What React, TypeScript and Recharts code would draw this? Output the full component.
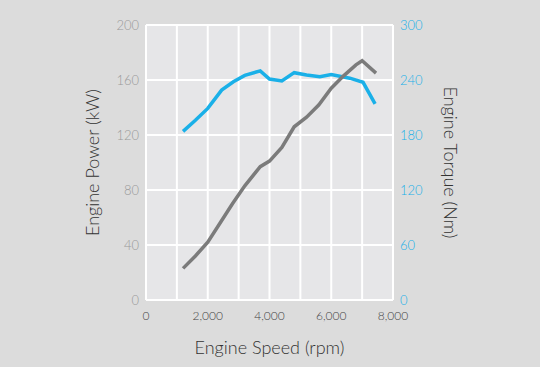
import React from 'react';
import { LineChart, Line, XAxis, YAxis, CartesianGrid } from 'recharts';

const powerRpm = [1200, 1600, 2000, 2400, 2800, 3200, 3700, 4000, 4400, 4800, 5200, 5600, 6000, 6400, 6800, 7000, 7450];
const powerKw = [23, 32, 42, 56, 70, 83, 97, 101, 111, 126, 133, 142, 154, 163, 171, 174, 165];

const torqueRpm = [1200, 1600, 2000, 2450, 2830, 3200, 3700, 4000, 4400, 4800, 5200, 5630, 6000, 6600, 7030, 7420];
const torqueNm = [184, 196, 209, 229, 238, 245, 250, 241, 239, 248, 245.5, 243.5, 246, 242, 237.5, 214];

const xTicks = [0, 1000, 2000, 3000, 4000, 5000, 6000, 7000, 8000];
const powerTicks = [0, 40, 80, 120, 160, 200];
const torqueTicks = [0, 60, 120, 180, 240, 300];

const powerData = powerRpm.map((rpm, i) => ({ rpm, power: powerKw[i] }));
const torqueData = torqueRpm.map((rpm, i) => ({ rpm, torque: torqueNm[i] }));

const FONT = 'Lato, "Open Sans", sans-serif';
const BLUE = '#1ab0e8';
const GRAY = '#7b7b7b';

export default function App() {
  return (
    <div style={{ position: 'absolute', left: 0, top: 0, width: 540, height: 367, background: '#dcdcdc', fontFamily: FONT }}>
      <LineChart width={540} height={367} margin={{ top: 25, right: 0, bottom: 0, left: 0 }}>
        <CartesianGrid yAxisId="left" stroke="#ffffff" strokeWidth={2} fill="#e6e6e8" />
        <XAxis
          type="number"
          dataKey="rpm"
          domain={[0, 8000]}
          ticks={xTicks}
          tickFormatter={(v: number) => (v % 2000 === 0 ? v.toLocaleString('en-US') : '')}
          axisLine={false}
          tickLine={false}
          tickSize={0}
          tickMargin={11}
          height={67}
          interval={0}
          tick={{ fill: '#444', fontSize: 12, fontWeight: 300, fontFamily: FONT }}
          label={{
            content: (props: any) => {
              const vb = props.viewBox;
              return (
                <text x={vb.x + vb.width / 2} y={354} textAnchor="middle" fill="#333" fontSize={18} fontWeight={300} fontFamily={FONT}>
                  Engine Speed (rpm)
                </text>
              );
            },
          }}
        />
        <YAxis
          yAxisId="left"
          orientation="left"
          domain={[0, 200]}
          ticks={powerTicks}
          axisLine={false}
          tickLine={false}
          tickSize={0}
          tickMargin={7}
          width={146}
          interval={0}
          tick={{ fill: '#9a9a9a', fontSize: 13, fontWeight: 300, fontFamily: FONT }}
          label={{
            content: (props: any) => {
              const vb = props.viewBox;
              const cx = 99;
              const cy = vb.y + vb.height / 2;
              return (
                <text x={cx} y={cy} transform={`rotate(-90 ${cx} ${cy})`} textAnchor="middle" fill="#333" fontSize={18} fontWeight={300} fontFamily={FONT}>
                  Engine Power (kW)
                </text>
              );
            },
          }}
        />
        <YAxis
          yAxisId="right"
          orientation="right"
          domain={[0, 300]}
          ticks={torqueTicks}
          axisLine={false}
          tickLine={false}
          tickSize={0}
          tickMargin={7}
          width={147}
          interval={0}
          tick={{ fill: BLUE, fontSize: 13, fontWeight: 300, fontFamily: FONT }}
          label={{
            content: (props: any) => {
              const vb = props.viewBox;
              const cx = 444;
              const cy = vb.y + vb.height / 2;
              return (
                <text x={cx} y={cy} transform={`rotate(90 ${cx} ${cy})`} textAnchor="middle" fill="#333" fontSize={18} fontWeight={300} fontFamily={FONT}>
                  Engine Torque (Nm)
                </text>
              );
            },
          }}
        />
        <Line
          yAxisId="right"
          data={torqueData}
          dataKey="torque"
          type="linear"
          stroke={BLUE}
          strokeWidth={3.5}
          dot={false}
          isAnimationActive={false}
        />
        <Line
          yAxisId="left"
          data={powerData}
          dataKey="power"
          type="linear"
          stroke={GRAY}
          strokeWidth={3.5}
          dot={false}
          isAnimationActive={false}
        />
      </LineChart>
    </div>
  );
}
